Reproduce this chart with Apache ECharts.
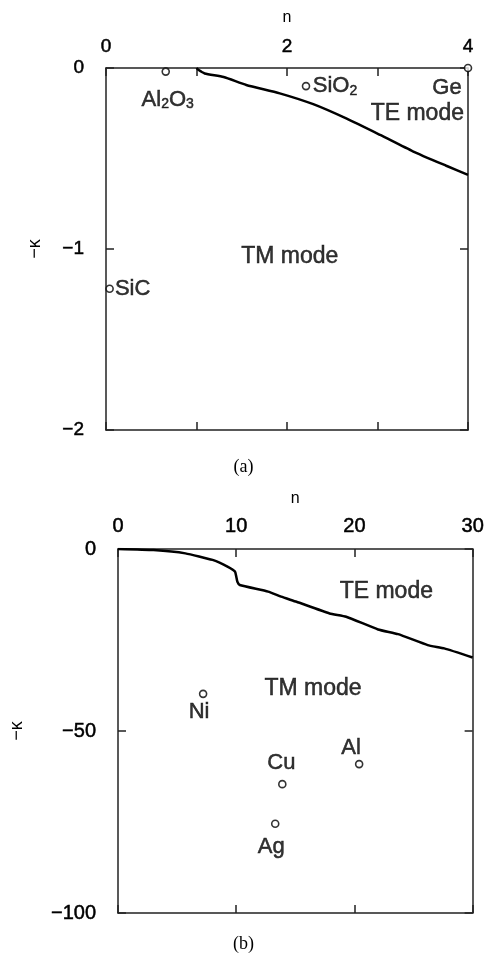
<!DOCTYPE html>
<html>
<head>
<meta charset="utf-8">
<script src="https://cdn.jsdelivr.net/npm/echarts@6/dist/echarts.min.js"></script>
<style>
html,body{margin:0;padding:0;background:#fff;}
#chart{width:487px;height:957px;}
</style>
</head>
<body>
<div id="chart"></div>
<script>
// ---- Data: panel (a) ----
var curveA_n = [1.0, 1.02, 1.09, 1.3, 1.55, 1.92, 2.29, 2.66, 3.03, 3.39, 3.76, 4.0];
var curveA_k = [0, -0.01, -0.03, -0.05, -0.094, -0.14, -0.20, -0.28, -0.37, -0.46, -0.54, -0.59];
var pointsA_names = ['Al2O3', 'SiO2', 'Ge', 'SiC'];
var pointsA_n = [0.66, 2.21, 4.0, 0.04];
var pointsA_k = [-0.02, -0.10, 0, -1.22];
var xTicksA = [0, 2, 4];
var yTicksA = [0, -1, -2];

// ---- Data: panel (b) ----
var curveB_n = [0, 3.0, 5.7, 8.0, 9.3, 9.9, 10.0, 10.1, 10.3, 12.7, 13.8, 15.1, 17.9, 19.3, 22.0, 23.7, 26.2, 27.6, 30];
var curveB_k = [0, -0.3, -1.2, -3.0, -4.9, -6.2, -7.5, -9.0, -9.9, -11.7, -13.1, -14.5, -17.7, -18.6, -22.1, -23.4, -26.4, -27.3, -29.8];
var pointsB_names = ['Ni', 'Cu', 'Al', 'Ag'];
var pointsB_n = [7.2, 13.9, 20.4, 13.3];
var pointsB_k = [-39.8, -64.6, -59.1, -75.5];
var xTicksB = [0, 10, 20, 30];
var yTicksB = [0, -50, -100];

// region annotations (data space)
var modeA_labels = ['TE mode', 'TM mode'];
var modeA_n = [3.44, 2.03];
var modeA_k = [-0.25, -1.044];
var modeB_labels = ['TE mode', 'TM mode'];
var modeB_n = [22.7, 16.5];
var modeB_k = [-11.8, -38.5];

// ---- styling (not data) ----
var FONT = '"Liberation Sans", Arial, sans-serif';
var TXT = '#000';
var BOLDEN = { textBorderColor: '#000', textBorderWidth: 0.5 };
var labelOffsets = {
  'Al2O3': [2, 28], 'SiO2': [29, 0], 'Ge': [-21, 20], 'SiC': [23, 0],
  'Ni': [-4, 18], 'Cu': [-1, -21], 'Al': [-8, -16], 'Ag': [-4, 23]
};
var richNames = {
  'Al2O3': 'Al{s|2}O{s|3}',
  'SiO2': 'SiO{s|2}'
};
function zip(a, b) { return a.map(function (v, i) { return [v, b[i]]; }); }
function fmtNum(v) { return String(v).replace('-', '\u2212'); }
function ext(a, b) { var o = {}; for (var k in a) o[k] = a[k]; for (var k2 in b) o[k2] = b[k2]; return o; }

var axisColor = '#222';
var tickStyle = { show: true, inside: true, length: 8, lineStyle: { color: axisColor, width: 1.5 } };
var lineStyleAxis = { show: true, onZero: false, lineStyle: { color: axisColor, width: 1.5 } };

function pointsSeries(names, xs, ys, xi, yi) {
  return {
    type: 'scatter',
    xAxisIndex: xi, yAxisIndex: yi,
    symbol: 'circle', symbolSize: 7,
    itemStyle: { color: '#fff', borderColor: '#000', borderWidth: 1.6 },
    data: names.map(function (nm, i) {
      return {
        value: [xs[i], ys[i]],
        name: nm,
        label: ext({
          show: true, position: 'inside',
          offset: labelOffsets[nm],
          formatter: richNames[nm] || nm,
          color: TXT, fontSize: 22, fontFamily: FONT,
          rich: { s: ext({ fontSize: 14, fontFamily: FONT, color: TXT, padding: [10, 0, 0, 0] }, BOLDEN) }
        }, BOLDEN)
      };
    }),
    z: 5
  };
}
function modeSeries(labels, xs, ys, xi, yi) {
  return {
    type: 'scatter', xAxisIndex: xi, yAxisIndex: yi,
    symbolSize: 0, silent: true,
    data: labels.map(function (t, i) {
      return { value: [xs[i], ys[i]], label: ext({ show: true, position: 'inside', formatter: t, color: TXT, fontSize: 23, fontFamily: FONT }, BOLDEN) };
    })
  };
}

var chart = echarts.init(document.getElementById('chart'));
var option = {
  backgroundColor: '#fff',
  animation: false,
  grid: [
    { left: 106, top: 68, width: 362, height: 362 },
    { left: 114, top: 549, width: 362, height: 364 }
  ],
  xAxis: [
    { gridIndex: 0, type: 'value', position: 'top', min: xTicksA[0], max: xTicksA[xTicksA.length - 1], interval: 1,
      name: 'n', nameLocation: 'middle', nameGap: 42, nameTextStyle: { fontSize: 16, fontFamily: FONT, color: TXT },
      axisLine: lineStyleAxis, axisTick: tickStyle, splitLine: { show: false },
      axisLabel: ext({ margin: 12, fontSize: 19, fontFamily: FONT, color: TXT,
        formatter: function (v) { return xTicksA.indexOf(v) >= 0 ? fmtNum(v) : ''; } }, BOLDEN) },
    { gridIndex: 0, type: 'value', position: 'bottom', min: xTicksA[0], max: xTicksA[xTicksA.length - 1], interval: 1,
      axisLine: lineStyleAxis, axisTick: tickStyle, splitLine: { show: false }, axisLabel: { show: false } },
    { gridIndex: 1, type: 'value', position: 'top', min: xTicksB[0], max: xTicksB[xTicksB.length - 1], interval: 10,
      name: 'n', nameLocation: 'middle', nameGap: 42, nameTextStyle: { fontSize: 16, fontFamily: FONT, color: TXT },
      axisLine: lineStyleAxis, axisTick: tickStyle, splitLine: { show: false },
      axisLabel: ext({ margin: 13, fontSize: 20, fontFamily: FONT, color: TXT,
        formatter: function (v) { return xTicksB.indexOf(v) >= 0 ? fmtNum(v) : ''; } }, BOLDEN) },
    { gridIndex: 1, type: 'value', position: 'bottom', min: xTicksB[0], max: xTicksB[xTicksB.length - 1], interval: 10,
      axisLine: lineStyleAxis, axisTick: tickStyle, splitLine: { show: false }, axisLabel: { show: false } }
  ],
  yAxis: [
    { gridIndex: 0, type: 'value', position: 'left', min: yTicksA[yTicksA.length - 1], max: yTicksA[0], interval: 1,
      name: '\u2212\u03ba', nameLocation: 'middle', nameGap: 62, nameRotate: 90,
      nameTextStyle: { fontSize: 18, fontFamily: FONT, color: TXT },
      axisLine: lineStyleAxis, axisTick: tickStyle, splitLine: { show: false },
      axisLabel: ext({ margin: 22, fontSize: 19, fontFamily: FONT, color: TXT, formatter: fmtNum }, BOLDEN) },
    { gridIndex: 0, type: 'value', position: 'right', min: yTicksA[yTicksA.length - 1], max: yTicksA[0], interval: 1,
      axisLine: lineStyleAxis, axisTick: tickStyle, splitLine: { show: false }, axisLabel: { show: false } },
    { gridIndex: 1, type: 'value', position: 'left', min: yTicksB[yTicksB.length - 1], max: yTicksB[0], interval: 50,
      name: '\u2212\u03ba', nameLocation: 'middle', nameGap: 92, nameRotate: 90,
      nameTextStyle: { fontSize: 18, fontFamily: FONT, color: TXT },
      axisLine: lineStyleAxis, axisTick: tickStyle, splitLine: { show: false },
      axisLabel: ext({ margin: 22, fontSize: 20, fontFamily: FONT, color: TXT, formatter: fmtNum }, BOLDEN) },
    { gridIndex: 1, type: 'value', position: 'right', min: yTicksB[yTicksB.length - 1], max: yTicksB[0], interval: 50,
      axisLine: lineStyleAxis, axisTick: tickStyle, splitLine: { show: false }, axisLabel: { show: false } }
  ],
  series: [
    { type: 'line', xAxisIndex: 0, yAxisIndex: 0, data: zip(curveA_n, curveA_k), smooth: 0.2,
      showSymbol: false, lineStyle: { color: '#000', width: 2.5 } },
    { type: 'line', xAxisIndex: 2, yAxisIndex: 2, data: zip(curveB_n, curveB_k), smooth: 0.15,
      showSymbol: false, lineStyle: { color: '#000', width: 2.5 } },
    pointsSeries(pointsA_names, pointsA_n, pointsA_k, 0, 0),
    pointsSeries(pointsB_names, pointsB_n, pointsB_k, 2, 2),
    modeSeries(modeA_labels, modeA_n, modeA_k, 0, 0),
    modeSeries(modeB_labels, modeB_n, modeB_k, 2, 2)
  ],
  graphic: [
    { type: 'text', left: 'center', top: 458, style: { text: '(a)', font: '18px "Liberation Serif", "Times New Roman", serif', fill: TXT } },
    { type: 'text', left: 'center', top: 935, style: { text: '(b)', font: '18px "Liberation Serif", "Times New Roman", serif', fill: TXT } }
  ]
};
chart.setOption(option);
</script>
</body>
</html>
